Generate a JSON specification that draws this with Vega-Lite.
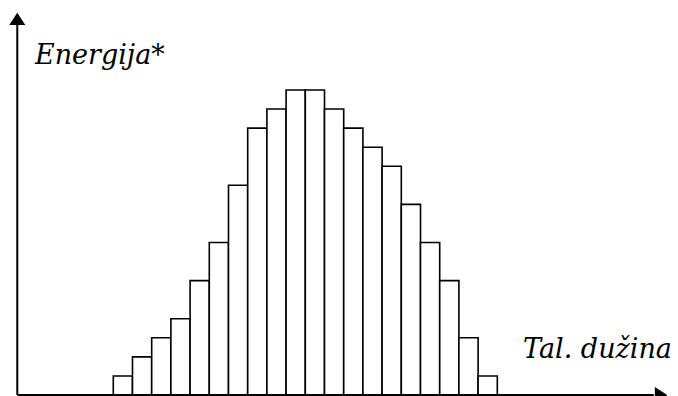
{
  "$schema": "https://vega.github.io/schema/vega-lite/v6.json",
  "width": 678,
  "height": 396,
  "padding": 0,
  "autosize": {"type": "none"},
  "background": "white",
  "config": {"view": {"stroke": null}},
  "datasets": {
    "bars": [
      {"start": 0, "end": 1, "energy": 1},
      {"start": 1, "end": 2, "energy": 2},
      {"start": 2, "end": 3, "energy": 3},
      {"start": 3, "end": 4, "energy": 4},
      {"start": 4, "end": 5, "energy": 6},
      {"start": 5, "end": 6, "energy": 8},
      {"start": 6, "end": 7, "energy": 11},
      {"start": 7, "end": 8, "energy": 14},
      {"start": 8, "end": 9, "energy": 15},
      {"start": 9, "end": 10, "energy": 16},
      {"start": 10, "end": 11, "energy": 16},
      {"start": 11, "end": 12, "energy": 15},
      {"start": 12, "end": 13, "energy": 14},
      {"start": 13, "end": 14, "energy": 13},
      {"start": 14, "end": 15, "energy": 12},
      {"start": 15, "end": 16, "energy": 10},
      {"start": 16, "end": 17, "energy": 8},
      {"start": 17, "end": 18, "energy": 6},
      {"start": 18, "end": 19, "energy": 3},
      {"start": 19, "end": 20, "energy": 1}
    ],
    "axes": [
      {"x": -5, "x2": 28.15, "y": 0, "y2": 0},
      {"x": -5, "x2": -5, "y": 0, "y2": 19.41}
    ],
    "labels": [
      {"x": -4.08, "y": 17.36, "text": "Energija*"},
      {"x": 21.34, "y": 1.94, "text": "Tal. dužina"}
    ]
  },
  "layer": [
    {
      "data": {"name": "bars"},
      "mark": {"type": "bar", "fill": "white", "stroke": "black", "strokeWidth": 1.6},
      "encoding": {
        "x": {"field": "start", "type": "quantitative", "scale": {"domain": [-5.9, 29.41], "nice": false, "zero": false}, "axis": null},
        "x2": {"field": "end"},
        "y": {"field": "energy", "type": "quantitative", "scale": {"domain": [-0.052, 20.72], "nice": false, "zero": false}, "axis": null},
        "y2": {"datum": 0}
      }
    },
    {
      "data": {"name": "axes"},
      "mark": {"type": "rule", "color": "black", "strokeWidth": 2},
      "encoding": {
        "x": {"field": "x", "type": "quantitative"},
        "x2": {"field": "x2"},
        "y": {"field": "y", "type": "quantitative"},
        "y2": {"field": "y2"}
      }
    },
    {
      "data": {"values": [{"x": -5, "y": 19.73}]},
      "mark": {"type": "point", "shape": "M-1,0.78L1,0.78L0,-0.78Z", "size": 256, "filled": true, "color": "black", "opacity": 1, "strokeWidth": 0},
      "encoding": {
        "x": {"field": "x", "type": "quantitative"},
        "y": {"field": "y", "type": "quantitative"}
      }
    },
    {
      "data": {"values": [{"x": 28.53, "y": 0}]},
      "mark": {"type": "point", "shape": "M-0.78,-1L0.78,0L-0.78,1Z", "size": 256, "filled": true, "color": "black", "opacity": 1, "strokeWidth": 0},
      "encoding": {
        "x": {"field": "x", "type": "quantitative"},
        "y": {"field": "y", "type": "quantitative"}
      }
    },
    {
      "data": {"name": "labels"},
      "mark": {"type": "text", "font": "DejaVu Serif", "fontStyle": "italic", "fontSize": 27, "align": "left", "baseline": "alphabetic", "color": "black"},
      "encoding": {
        "x": {"field": "x", "type": "quantitative"},
        "y": {"field": "y", "type": "quantitative"},
        "text": {"field": "text"}
      }
    }
  ]
}
